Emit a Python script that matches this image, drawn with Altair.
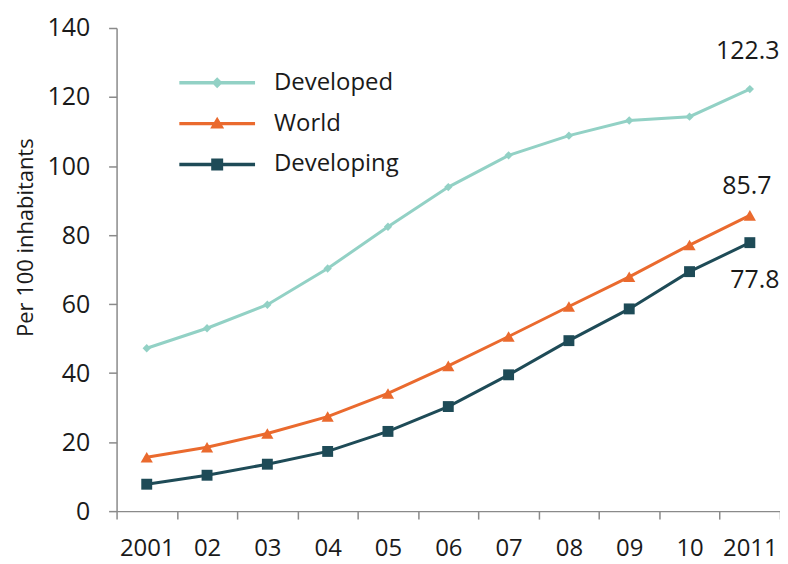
import json
import altair as alt
import pandas as pd

# ---- data ----
years = ["2001", "02", "03", "04", "05", "06", "07", "08", "09", "10", "2011"]
series = ["Developed", "World", "Developing"]
developed = [47.2, 53.0, 59.8, 70.3, 82.4, 93.9, 103.1, 108.8, 113.2, 114.3, 122.3]
world = [15.6, 18.5, 22.5, 27.4, 34.1, 42.1, 50.6, 59.3, 67.9, 77.1, 85.7]
developing = [7.8, 10.4, 13.6, 17.3, 23.1, 30.3, 39.5, 49.4, 58.6, 69.4, 77.8]
y_ticks = [0, 20, 40, 60, 80, 100, 120, 140]

colors = ["#92d1c5", "#ea6a2e", "#1e4b57"]
markers = ["diamond", "triangle-up", "square"]
marker_sizes = [70, 150, 120]
# label offsets (dx, dy) for end-of-line annotations
label_offsets = [(-2, -38), (-3, -29), (5, 38)]

# legend symbol paths: line segment + marker (same winding)
legend_paths = [
    "M-7.6,-0.17H0V0.17H-7.6Z M-3.8,-0.55L-3.25,0L-3.8,0.55L-4.35,0Z",
    "M-7.6,-0.17H0V0.17H-7.6Z M-3.8,-0.7L-3.1,0.5L-4.5,0.5Z",
    "M-7.6,-0.17H0V0.17H-7.6Z M-4.4,-0.6H-3.2V0.6H-4.4Z",
]

values = {"Developed": developed, "World": world, "Developing": developing}
rows = []
for s in series:
    for yr, v in zip(years, values[s]):
        rows.append({"Year": yr, "Series": s, "Value": v})
df = pd.DataFrame(rows)

FONT = "Open Sans"

x_enc = alt.X(
    "Year:N",
    sort=years,
    scale=alt.Scale(type="band", paddingInner=0, paddingOuter=0),
    axis=alt.Axis(
        title=None,
        labelAngle=0,
        tickBand="extent",
        labelFontSize=24,
        labelFont=FONT,
        labelColor="#1a1a1a",
        labelPadding=18,
        tickSize=8,
        tickColor="#8a8a8a",
        domainColor="#8a8a8a",
        domainWidth=1.5,
        tickWidth=1.5,
        grid=False,
    ),
)
y_enc = alt.Y(
    "Value:Q",
    scale=alt.Scale(domain=[0, 140], nice=False, zero=True),
    axis=alt.Axis(
        values=y_ticks,
        title="Per 100 inhabitants",
        titleFont=FONT,
        titleFontSize=22,
        titleFontWeight="normal",
        titleColor="#1a1a1a",
        titleAngle=270,
        titleAlign="center",
        titleBaseline="middle",
        titleX=-91,
        titleY=210,
        labelFontSize=25,
        labelFont=FONT,
        labelColor="#1a1a1a",
        labelPadding=19,
        tickSize=8,
        tickColor="#8a8a8a",
        domainColor="#8a8a8a",
        domainWidth=1.5,
        tickWidth=1.5,
        grid=False,
    ),
)
color_scale = alt.Scale(domain=series, range=colors)

legend_opts = dict(
    title=None,
    orient="none",
    legendX=127,
    legendY=43,
    symbolSize=400,
    labelFont=FONT,
    labelFontSize=24,
    labelColor="#1a1a1a",
    labelOffset=7,
    rowPadding=17,
    padding=0,
    symbolStrokeWidth=0,
    symbolOpacity=1,
)

base = alt.Chart(df)

# invisible layer that only carries the legend (line + marker symbols)
legend_layer = base.mark_point(filled=True, opacity=0).encode(
    x=x_enc,
    y=y_enc,
    color=alt.Color("Series:N", scale=color_scale, legend=alt.Legend(**legend_opts)),
    shape=alt.Shape(
        "Series:N",
        scale=alt.Scale(domain=series, range=legend_paths),
        legend=alt.Legend(**legend_opts),
    ),
)

lines = base.mark_line(strokeWidth=3).encode(
    x=x_enc,
    y=y_enc,
    color=alt.Color("Series:N", scale=color_scale),
    detail="Series:N",
)

layers = [legend_layer, lines]
for s, c, m, sz, (dx, dy) in zip(series, colors, markers, marker_sizes, label_offsets):
    pts = base.transform_filter(alt.datum.Series == s).mark_point(
        shape=m, filled=True, size=sz, color=c, opacity=1
    ).encode(x=x_enc, y=y_enc)
    lbl = base.transform_filter(
        (alt.datum.Series == s) & (alt.datum.Year == years[-1])
    ).mark_text(
        font=FONT, fontSize=25, color="#1a1a1a", dx=dx, dy=dy, align="center", baseline="middle"
    ).encode(x=x_enc, y=y_enc, text=alt.Text("Value:Q", format=".1f"))
    layers += [pts, lbl]

chart = alt.layer(*layers).properties(
    width=666,
    height=485,
    autosize=alt.AutoSizeParams(type="none"),
    padding={"left": 109, "top": 19, "right": 0, "bottom": 52},
    background="white",
).configure_view(stroke=None)

chart.save("out.html", embed_options={"renderer": "svg", "actions": False})
